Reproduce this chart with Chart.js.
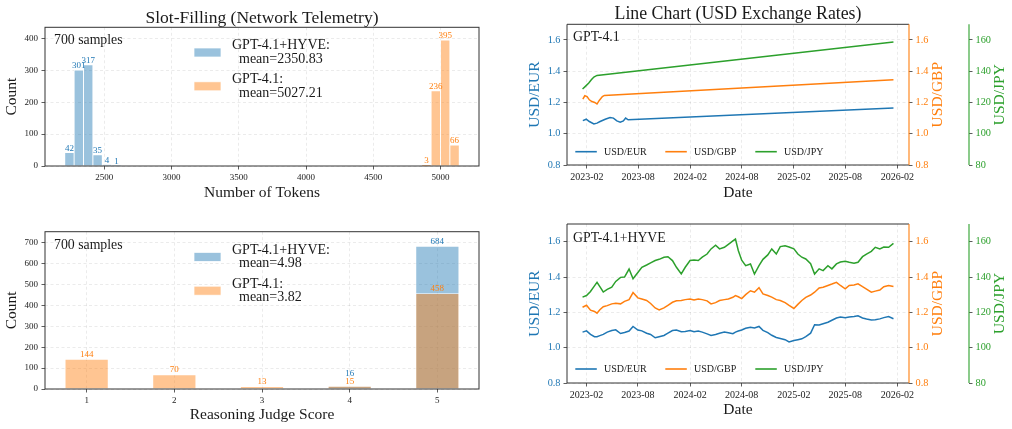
<!DOCTYPE html>
<html>
<head>
<meta charset="utf-8">
<script src="https://cdn.jsdelivr.net/npm/chart.js@4.4.0/dist/chart.umd.min.js"></script>
<style>
html,body{margin:0;padding:0;background:#fff;}
#wrap{position:relative;width:1012px;height:429px;overflow:hidden;background:#fff;}
canvas{position:absolute;}
</style>
</head>
<body>
<div id="wrap">
<canvas id="c1" width="506" height="210" style="left:0;top:0;width:506px;height:210px"></canvas>
<canvas id="c2" width="506" height="219" style="left:0;top:210px;width:506px;height:219px"></canvas>
<canvas id="c3" width="506" height="210" style="left:506px;top:0;width:506px;height:210px"></canvas>
<canvas id="c4" width="506" height="219" style="left:506px;top:210px;width:506px;height:219px"></canvas>
</div>
<script>
// ---------------- DATA ----------------
const sampleCount = 700;

// Slot-Filling: token-count histograms
const tokenBinWidth = 69.8;
const tokenBinsHyve = [2241.9, 2311.7, 2381.5, 2451.3, 2521.1, 2590.9];
const tokenCountsHyve = [42, 301, 317, 35, 4, 1];
const tokenBinsGpt = [4894.3, 4964.1, 5033.9, 5103.7];
const tokenCountsGpt = [3, 236, 395, 66];
const tokenMeanHyve = 2350.83;
const tokenMeanGpt = 5027.21;
const tokenTicks = [2500, 3000, 3500, 4000, 4500, 5000];
const tokenCountTicks = [0, 100, 200, 300, 400];

// Reasoning judge score
const judgeScores = [1, 2, 3, 4, 5];
const judgeCountsHyve = [0, 0, 0, 16, 684];
const judgeCountsGpt = [144, 70, 13, 15, 458];
const judgeMeanHyve = 4.98;
const judgeMeanGpt = 3.82;
const judgeCountTicks = [0, 100, 200, 300, 400, 500, 600, 700];

// Exchange rates, GPT-4.1 panel
const gptEurDates = ['2023-01-18','2023-01-30','2023-02-10','2023-02-26','2023-03-09','2023-03-20','2023-04-07','2023-04-24','2023-05-06','2023-05-18','2023-05-30','2023-06-10','2023-06-18','2023-06-27','2026-01-18'];
const gptEurValues = [1.084,1.093,1.078,1.063,1.068,1.078,1.093,1.104,1.100,1.082,1.074,1.082,1.100,1.089,1.164];
const gptGbpDates = ['2023-01-18','2023-01-25','2023-02-02','2023-02-10','2023-02-19','2023-03-01','2023-03-09','2023-03-17','2023-03-28','2023-04-04','2026-01-18'];
const gptGbpValues = [1.222,1.243,1.238,1.217,1.206,1.200,1.190,1.213,1.238,1.245,1.346];
const gptJpyDates = ['2023-01-17','2023-01-27','2023-02-08','2023-02-17','2023-02-26','2023-03-09','2026-01-18'];
const gptJpyValues = [128.6,130.3,132.4,134.5,136.3,137.3,158.7];

// Exchange rates, GPT-4.1+HYVE panel
const hyveDates = ['2023-01-18','2023-02-01','2023-02-15','2023-03-01','2023-03-10','2023-03-20','2023-04-01','2023-04-15','2023-05-01','2023-05-15',
 '2023-06-01','2023-06-15','2023-07-01','2023-07-15','2023-08-01','2023-08-15','2023-09-01','2023-09-15','2023-10-01','2023-10-15',
 '2023-11-01','2023-11-15','2023-12-01','2023-12-15','2024-01-01','2024-01-15','2024-02-01','2024-02-15','2024-03-01','2024-03-15',
 '2024-04-01','2024-04-15','2024-05-01','2024-05-15','2024-06-01','2024-06-15','2024-07-01','2024-07-10','2024-07-20','2024-08-01',
 '2024-08-15','2024-09-01','2024-09-15','2024-10-01','2024-10-15','2024-11-01','2024-11-15','2024-12-01','2024-12-15','2025-01-01',
 '2025-01-15','2025-02-01','2025-02-15','2025-03-01','2025-03-15','2025-04-01','2025-04-15','2025-05-01','2025-05-15','2025-06-01',
 '2025-06-15','2025-07-01','2025-07-15','2025-08-01','2025-08-15','2025-09-01','2025-09-15','2025-10-01','2025-10-15','2025-11-01',
 '2025-11-15','2025-12-01','2025-12-15','2026-01-01','2026-01-18'];
const hyveEurValues = [1.088,1.095,1.075,1.062,1.062,1.068,1.075,1.088,1.097,1.101,
 1.080,1.086,1.094,1.120,1.100,1.095,1.082,1.075,1.056,1.062,
 1.069,1.082,1.097,1.100,1.090,1.092,1.097,1.090,1.094,1.088,
 1.078,1.069,1.075,1.082,1.088,1.085,1.079,1.088,1.094,1.100,
 1.110,1.116,1.112,1.120,1.098,1.085,1.070,1.058,1.052,1.045,
 1.032,1.040,1.045,1.050,1.062,1.082,1.130,1.128,1.135,1.144,
 1.155,1.168,1.173,1.170,1.173,1.176,1.180,1.168,1.162,1.156,
 1.158,1.163,1.170,1.176,1.164];
const hyveGbpValues = [1.229,1.240,1.212,1.205,1.195,1.215,1.232,1.238,1.248,1.252,
 1.248,1.262,1.272,1.312,1.282,1.275,1.267,1.250,1.225,1.214,
 1.225,1.240,1.257,1.265,1.267,1.272,1.276,1.270,1.276,1.272,
 1.265,1.248,1.255,1.267,1.272,1.276,1.285,1.295,1.288,1.278,
 1.300,1.322,1.314,1.340,1.304,1.295,1.286,1.272,1.267,1.255,
 1.239,1.222,1.245,1.267,1.285,1.298,1.314,1.338,1.342,1.352,
 1.360,1.370,1.352,1.333,1.352,1.355,1.361,1.345,1.332,1.314,
 1.320,1.326,1.345,1.352,1.346];
const hyveJpyValues = [128.6,129.5,131.8,135.0,137.0,134.5,131.5,133.0,134.2,137.5,
 139.8,140.0,144.5,139.0,142.5,145.5,146.8,148.0,149.3,150.0,
 151.2,151.5,149.3,145.5,141.7,145.5,149.3,149.6,149.3,151.2,
 153.0,155.9,158.0,155.9,156.8,158.5,160.5,161.5,155.0,149.5,
 146.4,147.4,141.7,146.4,150.0,152.5,155.9,153.0,157.2,157.7,
 157.0,155.9,153.0,151.2,150.2,147.5,141.7,144.6,143.6,146.4,
 144.6,147.4,148.5,148.9,148.3,147.8,148.3,151.5,153.0,154.5,
 156.8,155.9,157.0,156.8,159.0];

const dateTickLabels = ['2023-02','2023-08','2024-02','2024-08','2025-02','2025-08','2026-02'];
const rateTicks = [0.8, 1.0, 1.2, 1.4, 1.6];
const jpyTicks = [80, 100, 120, 140, 160];
const rateRange = [0.8, 1.7];
const jpyRange = [80, 170];

// ---------------- STYLE / HELPERS ----------------
const FONT = '"Liberation Serif", "Times New Roman", "DejaVu Serif", serif';
Chart.defaults.font.family = FONT;
Chart.defaults.color = '#222';
const C_BLUE = '#1f77b4', C_ORANGE = '#ff7f0e', C_GREEN = '#2ca02c';
const FILL_BLUE = 'rgba(31,119,180,0.45)', FILL_ORANGE = 'rgba(255,127,14,0.45)';
const SPINE = '#333';
const TEXT = '#1a1a1a';
const GRIDC = 'rgba(0,0,0,0.1)';

function fnt(size){ return size + 'px ' + FONT; }
function setTicks(values){ return s => { s.ticks = values.map(v => ({value: v})); }; }
function dayNum(s){ const p = s.split('-').map(Number); return Date.UTC(p[0], p[1]-1, p[2] || 1) / 86400000; }
function gridOpts(onArea){
  return { display:true, drawOnChartArea: onArea, color: GRIDC, lineWidth: 0.8, drawTicks: true,
           tickLength: 3.5, tickColor: SPINE, tickWidth: 0.8, tickBorderDash: [] };
}
const borderOpts = { display:false, dash:[3,2.5] };

function vText(ctx, txt, x, y, size, color){
  ctx.save(); ctx.translate(x, y); ctx.rotate(-Math.PI/2);
  ctx.font = fnt(size); ctx.fillStyle = color; ctx.textAlign = 'center'; ctx.textBaseline = 'middle';
  ctx.fillText(txt, 0, 0); ctx.restore();
}
function hText(ctx, txt, x, y, size, color, align){
  ctx.save(); ctx.font = fnt(size); ctx.fillStyle = color; ctx.textAlign = align || 'left'; ctx.textBaseline = 'alphabetic';
  ctx.fillText(txt, x, y); ctx.restore();
}
function line(ctx, x1, y1, x2, y2, color, w){
  ctx.save(); ctx.strokeStyle = color; ctx.lineWidth = w; ctx.beginPath(); ctx.moveTo(x1, y1); ctx.lineTo(x2, y2); ctx.stroke(); ctx.restore();
}

// ---------------- HISTOGRAM / BAR PANELS ----------------
function barPanel(id, cfg){
  const deco = {
    id: 'deco_' + id,
    afterDatasetsDraw(chart){
      const ctx = chart.ctx;
      const placed = {};
      chart.data.datasets.forEach((ds, di) => {
        const meta = chart.getDatasetMeta(di);
        meta.data.forEach((el, i) => {
          const v = ds.data[i] ? ds.data[i].y : null;
          if (!v) return;
          let y = el.y - 2;
          const key = Math.round(el.x);
          if (placed[key] !== undefined && Math.abs(placed[key] - y) < 8) y = placed[key] - 7.6;
          placed[key] = y;
          hText(ctx, String(v), el.x, y, 9, ds.labelColor, 'center');
        });
      });
    },
    afterDraw(chart){
      const ctx = chart.ctx, a = chart.chartArea;
      ctx.save(); ctx.strokeStyle = SPINE; ctx.lineWidth = 1;
      ctx.strokeRect(a.left, a.top, a.right - a.left, a.bottom - a.top); ctx.restore();
      if (cfg.title) hText(ctx, cfg.title, (a.left + a.right)/2, 22.5, 17.5, TEXT, 'center');
      vText(ctx, 'Count', 12, (a.top + a.bottom)/2, 15.5, TEXT);
      hText(ctx, cfg.xlabel, (a.left + a.right)/2, cfg.xlabelY, 15.5, TEXT, 'center');
      hText(ctx, sampleCount + ' samples', 54, a.top + 16.8, 13.8, TEXT);
      // legend
      const entries = [
        {fill: FILL_BLUE, lines: ['GPT-4.1+HYVE:', '  mean=' + cfg.meanHyve]},
        {fill: FILL_ORANGE, lines: ['GPT-4.1:', '  mean=' + cfg.meanGpt]}
      ];
      entries.forEach((e, k) => {
        const off = k * 33.8;
        ctx.save(); ctx.fillStyle = e.fill; ctx.fillRect(194, a.top + 20.7 + off, 27, 9);
        ctx.strokeStyle = 'rgba(255,255,255,0.9)'; ctx.lineWidth = 0.8; ctx.strokeRect(194, a.top + 20.7 + off, 27, 9); ctx.restore();
        hText(ctx, e.lines[0], 232, a.top + 22 + off, 14, TEXT);
        hText(ctx, e.lines[1], 232, a.top + 35.5 + off, 14, TEXT);
      });
    }
  };
  const toPts = (xs, ys) => xs.map((x, i) => ({x: x, y: ys[i] === 0 ? null : ys[i]}));
  return new Chart(document.getElementById(id), {
    type: 'bar',
    data: { datasets: [
      { label: 'GPT-4.1', data: toPts(cfg.gptX, cfg.gptY), backgroundColor: FILL_ORANGE, borderColor: '#ffffff',
        borderWidth: 0.8, borderSkipped: 'start', grouped: false, categoryPercentage: 1, barPercentage: cfg.barPct, labelColor: C_ORANGE },
      { label: 'GPT-4.1+HYVE', data: toPts(cfg.hyveX, cfg.hyveY), backgroundColor: FILL_BLUE, borderColor: '#ffffff',
        borderWidth: 0.8, borderSkipped: 'start', grouped: false, categoryPercentage: 1, barPercentage: cfg.barPct, labelColor: C_BLUE }
    ]},
    options: {
      responsive: false, animation: false, devicePixelRatio: 1,
      layout: { padding: { top: cfg.top, right: 27, left: 0, bottom: 0 } },
      plugins: { legend: {display:false}, tooltip: {enabled:false}, title: {display:false} },
      scales: {
        x: { type: 'linear', offset: false, min: cfg.xMin, max: cfg.xMax,
             afterBuildTicks: setTicks(cfg.xTicks), afterFit: s => { s.height = cfg.xH; },
             grid: Object.assign(gridOpts(true), {offset:false}), border: borderOpts,
             ticks: { font: {size: 9}, color: '#222', padding: 3, autoSkip: false, maxRotation: 0, callback: v => String(v) } },
        y: { type: 'linear', min: 0, max: cfg.yMax,
             afterBuildTicks: setTicks(cfg.yTicks), afterFit: s => { s.width = 45; },
             grid: gridOpts(true), border: borderOpts,
             ticks: { font: {size: 9}, color: '#222', padding: 3.5, autoSkip: false, callback: v => String(v) } }
      }
    },
    plugins: [deco]
  });
}

const tokLo = Math.min(...tokenBinsHyve, ...tokenBinsGpt) - tokenBinWidth/2;
const tokHi = Math.max(...tokenBinsHyve, ...tokenBinsGpt) + tokenBinWidth/2;
barPanel('c1', {
  title: 'Slot-Filling (Network Telemetry)', xlabel: 'Number of Tokens', xlabelY: 197,
  hyveX: tokenBinsHyve, hyveY: tokenCountsHyve, gptX: tokenBinsGpt, gptY: tokenCountsGpt, barPct: 1,
  xMin: tokLo - 0.05*(tokHi - tokLo), xMax: tokHi + 0.05*(tokHi - tokLo), xTicks: tokenTicks,
  yMax: Math.max(...tokenCountsHyve, ...tokenCountsGpt) * 1.1, yTicks: tokenCountTicks,
  meanHyve: tokenMeanHyve.toFixed(2), meanGpt: tokenMeanGpt.toFixed(2), top: 27.3, xH: 44
});
barPanel('c2', {
  title: null, xlabel: 'Reasoning Judge Score', xlabelY: 209,
  hyveX: judgeScores, hyveY: judgeCountsHyve, gptX: judgeScores, gptY: judgeCountsGpt, barPct: 0.5,
  xMin: 0.75 - 0.225, xMax: 5.25 + 0.225, xTicks: judgeScores,
  yMax: Math.max(...judgeCountsHyve, ...judgeCountsGpt) * 1.1, yTicks: judgeCountTicks,
  meanHyve: judgeMeanHyve.toFixed(2), meanGpt: judgeMeanGpt.toFixed(2), top: 21.7, xH: 40
});

// ---------------- LINE PANELS ----------------
function linePanel(id, cfg){
  const series = [
    {name: 'USD/EUR', color: C_BLUE, axis: 'y', dates: cfg.eurDates, values: cfg.eurValues},
    {name: 'USD/GBP', color: C_ORANGE, axis: 'y2', dates: cfg.gbpDates, values: cfg.gbpValues},
    {name: 'USD/JPY', color: C_GREEN, axis: 'y3', dates: cfg.jpyDates, values: cfg.jpyValues}
  ];
  const allDays = [].concat(cfg.eurDates, cfg.gbpDates, cfg.jpyDates).map(dayNum);
  const d0 = Math.min(...allDays), d1 = Math.max(...allDays), m = 0.05 * (d1 - d0);
  const tickDays = dateTickLabels.map(l => dayNum(l + '-01'));
  const deco = {
    id: 'deco_' + id,
    afterDraw(chart){
      const ctx = chart.ctx, a = chart.chartArea;
      line(ctx, a.left, a.top, a.right, a.top, SPINE, 1);
      line(ctx, a.left, a.top, a.left, a.bottom, SPINE, 1);
      line(ctx, a.left, a.bottom, a.right, a.bottom, SPINE, 1);
      line(ctx, a.right, a.top, a.right, a.bottom, C_ORANGE, 1.1);
      const y3 = chart.scales.y3;
      line(ctx, y3.left, a.top, y3.left, a.bottom, C_GREEN, 1.1);
      if (cfg.title) hText(ctx, cfg.title, (a.left + a.right)/2, 19.3, 17.8, TEXT, 'center');
      vText(ctx, 'USD/EUR', 29, (a.top + a.bottom)/2, 15.5, C_BLUE);
      vText(ctx, 'USD/GBP', 432, (a.top + a.bottom)/2, 15.5, C_ORANGE);
      vText(ctx, 'USD/JPY', 494, (a.top + a.bottom)/2, 15.5, C_GREEN);
      hText(ctx, 'Date', (a.left + a.right)/2, cfg.xlabelY, 15.5, TEXT, 'center');
      hText(ctx, cfg.panel, a.left + 6, a.top + cfg.panelDy, 13.8, TEXT);
      const ly = a.bottom - cfg.legendDy;
      const hx = [69.3, 159.3, 249.3];
      series.forEach((s, k) => {
        line(ctx, hx[k], ly, hx[k] + 21.5, ly, s.color, 1.6);
        ctx.save(); ctx.font = fnt(10); ctx.fillStyle = TEXT; ctx.textBaseline = 'middle';
        ctx.fillText(s.name, hx[k] + 28.7, ly + 0.5); ctx.restore();
      });
    }
  };
  const tickCfg = (color, fmt) => ({ font: {size: 10.3}, color: color, padding: 3, autoSkip: false, callback: fmt });
  return new Chart(document.getElementById(id), {
    type: 'line',
    data: { datasets: series.map(s => ({
      label: s.name, data: s.dates.map((d, i) => ({x: dayNum(d), y: s.values[i]})),
      borderColor: s.color, borderWidth: 1.5, pointRadius: 0, tension: 0, fill: false, yAxisID: s.axis
    })) },
    options: {
      responsive: false, animation: false, devicePixelRatio: 1,
      layout: { padding: { top: cfg.top, right: 0, left: 0, bottom: 0 } },
      plugins: { legend: {display:false}, tooltip: {enabled:false}, title: {display:false} },
      scales: {
        x: { type: 'linear', position: 'bottom', min: d0 - m, max: d1 + m,
             afterBuildTicks: setTicks(tickDays), afterFit: s => { s.height = cfg.xH; },
             grid: gridOpts(true), border: borderOpts,
             ticks: { font: {size: 10}, color: '#222', padding: 3, autoSkip: false, maxRotation: 0,
                      callback: (v, i) => dateTickLabels[i] } },
        y: { type: 'linear', position: 'left', min: rateRange[0], max: rateRange[1],
             afterBuildTicks: setTicks(rateTicks), afterFit: s => { s.width = 61; },
             grid: gridOpts(true), border: borderOpts, ticks: tickCfg(C_BLUE, v => v.toFixed(1)) },
        y2: { type: 'linear', position: 'right', min: rateRange[0], max: rateRange[1],
             afterBuildTicks: setTicks(rateTicks), afterFit: s => { s.width = 60; },
             grid: gridOpts(false), border: borderOpts, ticks: tickCfg(C_ORANGE, v => v.toFixed(1)) },
        y3: { type: 'linear', position: 'right', min: jpyRange[0], max: jpyRange[1],
             afterBuildTicks: setTicks(jpyTicks), afterFit: s => { s.width = 43; },
             grid: gridOpts(false), border: borderOpts, ticks: tickCfg(C_GREEN, v => String(v)) }
      }
    },
    plugins: [deco]
  });
}

linePanel('c3', {
  title: 'Line Chart (USD Exchange Rates)', panel: 'GPT-4.1', panelDy: 16.7, legendDy: 13.3,
  xlabelY: 196.7, top: 24.3, xH: 45,
  eurDates: gptEurDates, eurValues: gptEurValues, gbpDates: gptGbpDates, gbpValues: gptGbpValues,
  jpyDates: gptJpyDates, jpyValues: gptJpyValues
});
linePanel('c4', {
  title: null, panel: 'GPT-4.1+HYVE', panelDy: 17.7, legendDy: 14,
  xlabelY: 203.5, top: 14, xH: 46,
  eurDates: hyveDates, eurValues: hyveEurValues, gbpDates: hyveDates, gbpValues: hyveGbpValues,
  jpyDates: hyveDates, jpyValues: hyveJpyValues
});
</script>
</body>
</html>
